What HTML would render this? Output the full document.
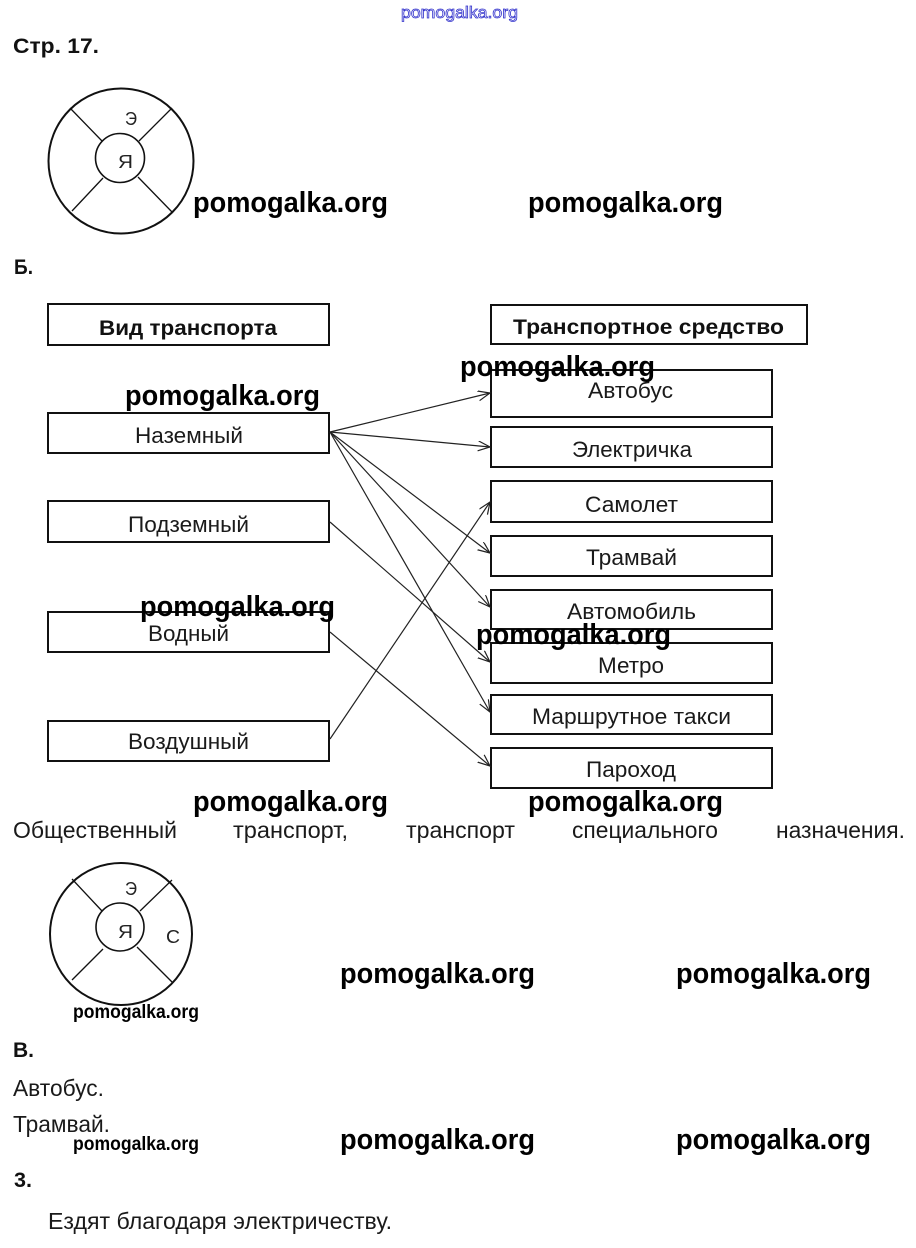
<!DOCTYPE html>
<html>
<head>
<meta charset="utf-8">
<style>
  html, body { margin:0; padding:0; background:#fff; }
  body { width:916px; height:1248px; overflow:hidden; }
  svg { display:block; }
  .lbl { font-family:"Liberation Sans", "DejaVu Sans", sans-serif; font-size:22px; fill:#1a1a1a; }
  .hdr { font-family:"Liberation Sans", "DejaVu Sans", sans-serif; font-size:21px; font-weight:bold; fill:#111; }
  .body { font-family:"Liberation Sans", "DejaVu Sans", sans-serif; font-size:23px; fill:#1a1a1a; }
  .wm { font-family:"Liberation Sans", "DejaVu Sans", sans-serif; font-size:29px; font-weight:bold; fill:#000; }
  .wms { font-family:"Liberation Sans", "DejaVu Sans", sans-serif; font-size:19px; font-weight:bold; fill:#000; }
  .let { font-family:"Liberation Sans", "DejaVu Sans", sans-serif; font-size:18px; fill:#222; }
</style>
</head>
<body>
<svg width="916" height="1248" viewBox="0 0 916 1248" xmlns="http://www.w3.org/2000/svg">
  <defs>
    <marker id="ah" markerUnits="userSpaceOnUse" markerWidth="14" markerHeight="12" refX="12" refY="5" orient="auto">
      <path d="M0,0 L12,5 L0,10" fill="none" stroke="#222" stroke-width="1.2"/>
    </marker>
  </defs>
  <rect x="0" y="0" width="916" height="1248" fill="#fff"/>

  <!-- top blue watermark -->
  <text x="401" y="18" font-family="Liberation Sans, sans-serif" font-size="17" fill="#fff" stroke="#3333cc" stroke-width="0.8" textLength="117" lengthAdjust="spacingAndGlyphs">pomogalka.org</text>

  <!-- Стр. 17. -->
  <text class="hdr" x="13" y="53" textLength="86" lengthAdjust="spacingAndGlyphs">Стр. 17.</text>

  <!-- Circle 1 -->
  <g fill="none" stroke="#111">
    <circle cx="121" cy="161" r="72.5" stroke-width="2"/>
    <circle cx="120" cy="158" r="24.5" stroke-width="1.6"/>
    <g stroke-width="1.3">
      <line x1="70" y1="108" x2="102" y2="141"/>
      <line x1="172" y1="108" x2="139" y2="141"/>
      <line x1="72" y1="211" x2="103" y2="178"/>
      <line x1="172" y1="212" x2="138" y2="177"/>
    </g>
  </g>
  <text class="let" x="125" y="125" textLength="12" lengthAdjust="spacingAndGlyphs">Э</text>
  <text class="let" x="118" y="168" textLength="15" lengthAdjust="spacingAndGlyphs">Я</text>

  <!-- Б. -->
  <text class="hdr" x="14" y="274" font-size="20" textLength="19" lengthAdjust="spacingAndGlyphs">Б.</text>

  <!-- Boxes -->
  <g fill="#fff" stroke="#111" stroke-width="2">
    <rect x="48" y="304" width="281" height="41"/>
    <rect x="48" y="413" width="281" height="40"/>
    <rect x="48" y="501" width="281" height="41"/>
    <rect x="48" y="612" width="281" height="40"/>
    <rect x="48" y="721" width="281" height="40"/>

    <rect x="491" y="305" width="316" height="39"/>
    <rect x="491" y="370" width="281" height="47"/>
    <rect x="491" y="427" width="281" height="40"/>
    <rect x="491" y="481" width="281" height="41"/>
    <rect x="491" y="536" width="281" height="40"/>
    <rect x="491" y="590" width="281" height="39"/>
    <rect x="491" y="643" width="281" height="40"/>
    <rect x="491" y="695" width="281" height="39"/>
    <rect x="491" y="748" width="281" height="40"/>
  </g>

  <!-- Box labels -->
  <text class="hdr" x="99" y="335" textLength="178" lengthAdjust="spacingAndGlyphs">Вид транспорта</text>
  <text class="hdr" x="513" y="334" textLength="271" lengthAdjust="spacingAndGlyphs">Транспортное средство</text>

  <text class="lbl" x="135" y="443" textLength="108" lengthAdjust="spacingAndGlyphs">Наземный</text>
  <text class="lbl" x="128" y="532" textLength="121" lengthAdjust="spacingAndGlyphs">Подземный</text>
  <text class="lbl" x="148" y="641" textLength="81" lengthAdjust="spacingAndGlyphs">Водный</text>
  <text class="lbl" x="128" y="749" textLength="121" lengthAdjust="spacingAndGlyphs">Воздушный</text>

  <text class="lbl" x="588" y="398" textLength="85" lengthAdjust="spacingAndGlyphs">Автобус</text>
  <text class="lbl" x="572" y="457" textLength="120" lengthAdjust="spacingAndGlyphs">Электричка</text>
  <text class="lbl" x="585" y="512" textLength="93" lengthAdjust="spacingAndGlyphs">Самолет</text>
  <text class="lbl" x="586" y="565" textLength="91" lengthAdjust="spacingAndGlyphs">Трамвай</text>
  <text class="lbl" x="567" y="619" textLength="129" lengthAdjust="spacingAndGlyphs">Автомобиль</text>
  <text class="lbl" x="598" y="673" textLength="66" lengthAdjust="spacingAndGlyphs">Метро</text>
  <text class="lbl" x="532" y="724" textLength="199" lengthAdjust="spacingAndGlyphs">Маршрутное такси</text>
  <text class="lbl" x="586" y="777" textLength="90" lengthAdjust="spacingAndGlyphs">Пароход</text>

  <!-- Arrows -->
  <g stroke="#222" stroke-width="1.2" fill="none">
    <line x1="330" y1="432" x2="490" y2="393" marker-end="url(#ah)"/>
    <line x1="330" y1="432" x2="490" y2="447" marker-end="url(#ah)"/>
    <line x1="330" y1="432" x2="490" y2="553" marker-end="url(#ah)"/>
    <line x1="330" y1="432" x2="490" y2="607" marker-end="url(#ah)"/>
    <line x1="330" y1="432" x2="490" y2="712" marker-end="url(#ah)"/>
    <line x1="330" y1="522" x2="490" y2="662" marker-end="url(#ah)"/>
    <line x1="330" y1="632" x2="490" y2="766" marker-end="url(#ah)"/>
    <line x1="330" y1="739" x2="490" y2="502" marker-end="url(#ah)"/>
  </g>

  <!-- Body line -->
  <text class="body" x="13" y="838" textLength="164" lengthAdjust="spacingAndGlyphs">Общественный</text>
  <text class="body" x="233" y="838" textLength="115" lengthAdjust="spacingAndGlyphs">транспорт,</text>
  <text class="body" x="406" y="838" textLength="109" lengthAdjust="spacingAndGlyphs">транспорт</text>
  <text class="body" x="572" y="838" textLength="146" lengthAdjust="spacingAndGlyphs">специального</text>
  <text class="body" x="776" y="838" textLength="129" lengthAdjust="spacingAndGlyphs">назначения.</text>

  <!-- Circle 2 -->
  <g fill="none" stroke="#111">
    <circle cx="121" cy="934" r="71" stroke-width="2"/>
    <circle cx="120" cy="927" r="24" stroke-width="1.6"/>
    <g stroke-width="1.3">
      <line x1="72" y1="879" x2="102" y2="911"/>
      <line x1="172" y1="880" x2="140" y2="911"/>
      <line x1="72" y1="980" x2="103" y2="949"/>
      <line x1="172" y1="982" x2="137" y2="947"/>
    </g>
  </g>
  <text class="let" x="125" y="895" textLength="12" lengthAdjust="spacingAndGlyphs">Э</text>
  <text class="let" x="118" y="938" textLength="15" lengthAdjust="spacingAndGlyphs">Я</text>
  <text class="let" x="166" y="943" font-size="21" textLength="14" lengthAdjust="spacingAndGlyphs">С</text>

  <!-- В. section -->
  <text class="hdr" x="13" y="1057" font-size="20" textLength="21" lengthAdjust="spacingAndGlyphs">В.</text>
  <text class="body" x="13" y="1096" textLength="91" lengthAdjust="spacingAndGlyphs">Автобус.</text>
  <text class="body" x="13" y="1132" textLength="97" lengthAdjust="spacingAndGlyphs">Трамвай.</text>
  <text class="hdr" x="14" y="1187" font-size="20" textLength="18" lengthAdjust="spacingAndGlyphs">3.</text>
  <text class="body" x="48" y="1229" textLength="344" lengthAdjust="spacingAndGlyphs">Ездят благодаря электричеству.</text>

  <!-- Watermarks (on top) -->
  <g>
    <text class="wm" x="193" y="212" textLength="195" lengthAdjust="spacingAndGlyphs">pomogalka.org</text>
    <text class="wm" x="528" y="212" textLength="195" lengthAdjust="spacingAndGlyphs">pomogalka.org</text>
    <text class="wm" x="460" y="376" textLength="195" lengthAdjust="spacingAndGlyphs">pomogalka.org</text>
    <text class="wm" x="125" y="405" textLength="195" lengthAdjust="spacingAndGlyphs">pomogalka.org</text>
    <text class="wm" x="140" y="616" textLength="195" lengthAdjust="spacingAndGlyphs">pomogalka.org</text>
    <text class="wm" x="476" y="644" textLength="195" lengthAdjust="spacingAndGlyphs">pomogalka.org</text>
    <text class="wm" x="193" y="811" textLength="195" lengthAdjust="spacingAndGlyphs">pomogalka.org</text>
    <text class="wm" x="528" y="811" textLength="195" lengthAdjust="spacingAndGlyphs">pomogalka.org</text>
    <text class="wm" x="340" y="983" textLength="195" lengthAdjust="spacingAndGlyphs">pomogalka.org</text>
    <text class="wm" x="676" y="983" textLength="195" lengthAdjust="spacingAndGlyphs">pomogalka.org</text>
    <text class="wm" x="340" y="1149" textLength="195" lengthAdjust="spacingAndGlyphs">pomogalka.org</text>
    <text class="wm" x="676" y="1149" textLength="195" lengthAdjust="spacingAndGlyphs">pomogalka.org</text>
    <text class="wms" x="73" y="1018" textLength="126" lengthAdjust="spacingAndGlyphs">pomogalka.org</text>
    <text class="wms" x="73" y="1150" textLength="126" lengthAdjust="spacingAndGlyphs">pomogalka.org</text>
  </g>
</svg>
</body>
</html>
